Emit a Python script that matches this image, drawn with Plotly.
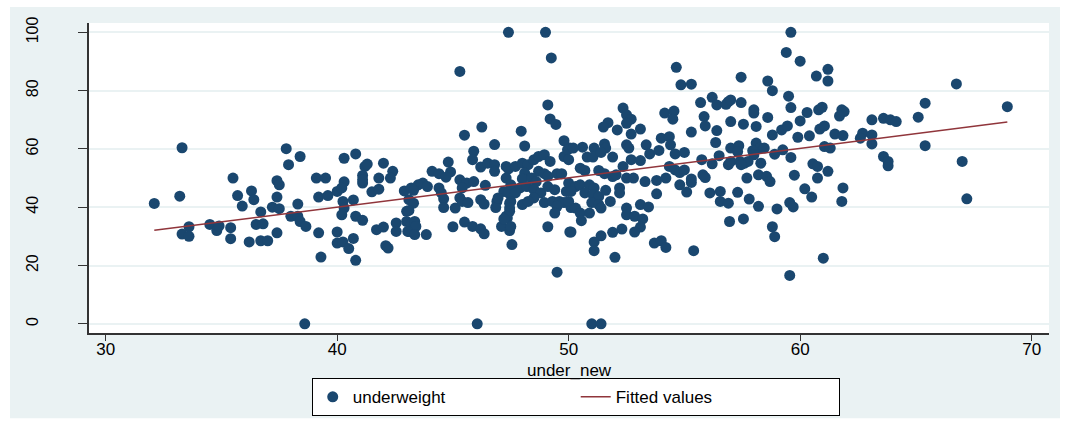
import numpy as np
import plotly.graph_objects as go

# under_new (x) and underweight (y) observations
under_new = [
    32.1, 33.3, 33.2, 35.5, 33.6, 33.3, 33.6, 34.5, 34.8, 34.9, 35.4, 35.4, 36.2, 35.7, 35.9, 36.3,
    36.4, 36.5, 36.7, 36.8, 36.7, 37.0,
    37.4, 37.4, 37.5, 37.4, 37.2, 37.5, 37.8, 38.4, 37.9, 38.3, 38.0, 38.3, 38.4, 38.65, 38.6, 39.2,
    39.3, 39.1, 39.5, 39.2, 39.6, 40.0, 40.0, 40.25, 40.5, 40.8, 40.7, 40.3, 40.8, 40.3, 40.0, 40.2,
    40.25, 40.7, 40.3, 40.2, 40.8, 41.1, 41.2, 41.3, 41.1, 41.1, 41.1, 41.5, 41.8, 41.8, 42.0, 42.4,
    42.3, 41.7, 42.0, 42.1, 42.2, 42.55, 42.55, 43.1, 42.9, 43.1, 43.0, 43.0, 43.2,
    47.4, 49.0, 49.25, 45.3, 49.1, 49.2, 49.45, 46.25, 45.5, 47.95, 46.8, 48.1, 49.8, 50.05, 45.9, 45.85,
    46.2, 44.8, 44.1, 44.4, 44.9, 44.7, 43.7, 43.5, 43.2, 43.9, 44.4, 44.5, 43.3, 43.3, 43.1, 44.6,
    44.6, 45.1, 45.3, 45.4, 45.3, 45.6, 45.4, 45.65, 45.9, 46.4, 46.2, 46.35, 46.9, 46.85, 46.5, 46.8,
    46.8, 47.3, 47.4, 47.3, 47.2, 47.4, 47.7, 48.0, 48.25, 48.1, 48.0, 47.5, 47.9, 47.7, 48.5, 48.7,
    48.95, 49.2, 48.7, 48.95, 49.1, 49.5, 49.7, 48.4, 48.6, 48.2, 48.5, 48.8, 48.5, 49.1, 49.4, 48.95,
    49.3, 49.6, 49.8, 49.5, 49.4, 50.1, 47.5, 48.0, 48.25, 47.45, 47.35, 47.1, 47.45, 47.55, 45.0, 45.5,
    45.85, 46.2, 46.35, 49.1, 49.5, 50.05, 46.05, 43.35, 43.4, 43.05, 43.35, 43.85, 49.8, 49.95, 49.9,
    47.5, 47.45, 47.45, 47.3, 47.2, 46.95,
    54.65, 54.85, 55.3, 52.35, 52.5, 52.7, 51.7, 51.5, 52.1, 52.5, 53.1, 52.7, 54.15, 54.55, 54.5, 55.7,
    56.2, 56.4, 56.9, 55.85, 55.9, 55.3, 56.4, 56.35, 57.0, 54.0, 54.35, 54.4, 53.35, 52.5, 52.6, 51.55,
    51.6, 50.6, 51.1, 50.2, 51.9, 50.8, 51.05, 51.4, 52.7, 53.1, 53.5, 53.9, 54.6, 55.0, 55.75, 56.2,
    56.5, 56.9, 50.5, 50.7, 50.0, 52.35, 51.3, 51.55, 51.9, 52.05, 52.5, 52.8, 53.3, 53.8, 54.2, 54.35,
    54.6, 54.8, 55.0, 55.3, 55.3, 55.8, 55.9, 54.8, 55.1, 53.8, 56.1, 56.55, 56.55, 56.9, 56.95, 50.0,
    50.3, 50.5, 50.9, 51.1, 50.1, 50.7, 51.05, 51.3, 51.6, 52.2, 52.2, 50.0, 51.0, 51.3, 51.8, 51.4,
    50.3, 50.5, 50.55, 50.9, 52.5, 53.1, 53.45, 52.5, 52.85, 53.2, 53.1, 52.85, 52.3, 51.9, 51.4, 51.1,
    51.1, 52.0, 50.1, 53.7, 54.0, 54.2, 55.4, 51.0, 51.4, 56.8,
    59.6, 59.4, 60.0, 60.7, 61.2, 61.2, 57.45, 58.6, 58.8, 59.5, 59.6, 57.0, 57.45, 58.0, 58.0, 58.6,
    60.3, 60.8, 60.95, 61.8, 61.9, 61.7, 57.55, 58.1, 60.0, 59.2, 59.45, 60.85, 61.05, 58.8, 59.9, 60.4,
    61.5, 61.85, 62.7, 63.1, 63.1, 62.6, 63.1, 63.6, 63.9, 57.0, 57.35, 57.3, 58.1, 58.25, 58.45, 57.95,
    58.0, 59.25, 58.9, 59.6, 61.05, 61.3, 57.0, 57.4, 57.6, 57.75, 57.45, 58.3, 60.55, 60.75, 61.2, 57.7,
    58.2, 58.55, 58.7, 59.75, 60.75, 60.2, 61.85, 57.3, 57.8, 58.2, 59.0, 59.55, 59.7, 60.5, 61.8, 57.55,
    58.8, 58.9, 61.0, 59.55,
    66.75, 65.4, 68.95, 65.1, 64.15, 65.4, 63.6, 63.8, 63.8, 67.0, 67.2,
]

underweight = [
    41.3, 60.4, 43.8, 50.0, 33.3, 30.8, 30.0, 34.1, 32.0, 33.6, 33.0, 29.2, 28.1, 44.0, 40.4, 45.6,
    42.6, 34.1, 38.4, 34.3, 28.5, 28.5,
    31.2, 49.1, 47.7, 43.5, 40.0, 39.5, 60.1, 57.4, 54.6, 41.1, 36.9, 36.9, 35.1, 33.4, 0.0, 31.2,
    22.9, 50.0, 50.0, 43.5, 44.0, 31.5, 27.7, 28.1, 25.8, 21.8, 29.3, 56.8, 58.3, 48.7, 45.4, 46.6,
    42.0, 42.5, 39.7, 37.4, 36.9, 35.5, 54.0, 54.8, 50.9, 48.3, 49.4, 45.3, 46.2, 50.0, 55.1, 52.3,
    50.0, 32.3, 33.2, 26.8, 26.0, 34.6, 31.7, 31.7, 45.6, 42.6, 38.6, 35.1, 34.3,
    100.0, 100.0, 91.2, 86.6, 75.1, 70.3, 68.4, 67.5, 64.7, 66.1, 61.5, 61.0, 62.8, 60.3, 59.2, 56.3,
    53.8, 55.5, 52.3, 51.5, 52.1, 50.3, 48.3, 47.7, 46.6, 47.1, 46.6, 44.9, 45.8, 41.4, 38.9, 42.9,
    39.9, 39.7, 43.2, 42.0, 49.4, 48.3, 46.6, 41.6, 48.8, 47.5, 42.6, 41.1, 42.0, 39.9, 55.1, 54.6,
    52.3, 54.0, 53.2, 50.0, 45.4, 44.9, 54.0, 55.1, 54.6, 51.7, 49.8, 47.7, 46.6, 44.9, 56.3, 57.4,
    58.0, 55.7, 52.3, 51.5, 50.6, 51.5, 51.5, 50.0, 48.8, 47.1, 46.0, 44.9, 43.2, 47.1, 46.0, 41.6,
    42.0, 42.0, 41.6, 40.3, 38.0, 39.9, 42.0, 40.9, 42.0, 38.6, 36.3, 33.4, 32.0, 27.2, 33.3, 34.9,
    33.4, 32.6, 30.9, 33.3, 17.7, 31.5, 0.0, 35.1, 33.4, 31.7, 30.6, 30.6, 57.4, 59.7, 45.4,
    33.4, 41.4, 39.7, 36.9, 36.0, 43.2,
    88.0, 82.0, 82.2, 74.0, 71.7, 70.2, 69.0, 67.5, 66.5, 68.8, 66.8, 65.1, 72.3, 73.0, 70.2, 75.9,
    77.7, 75.1, 76.2, 71.1, 67.9, 65.8, 66.3, 62.2, 69.4, 63.7, 64.2, 61.4, 61.4, 61.4, 60.3, 61.7,
    60.3, 60.6, 60.3, 60.3, 57.2, 57.2, 57.2, 58.8, 56.3, 56.0, 58.3, 59.5, 58.3, 58.8, 56.3, 54.9,
    57.7, 54.6, 53.4, 52.6, 56.3, 54.0, 52.6, 51.5, 50.5, 51.1, 50.0, 50.0, 48.8, 49.2, 50.0, 54.0,
    52.8, 51.9, 52.8, 49.7, 48.5, 51.1, 50.2, 47.7, 45.2, 44.6, 44.9, 45.4, 42.0, 41.4, 35.1, 48.3,
    47.1, 47.7, 47.7, 46.6, 45.4, 44.9, 44.3, 43.7, 45.8, 46.6, 44.9, 42.0, 41.6, 40.9, 42.0, 39.7,
    39.7, 38.0, 35.4, 38.0, 39.7, 40.9, 40.1, 37.4, 36.9, 36.0, 33.2, 31.5, 32.5, 31.4, 30.2, 28.1,
    25.1, 22.8, 31.5, 27.7, 28.5, 26.2, 25.1, 0.0, 0.0, 75.3,
    100.0, 93.1, 90.1, 85.0, 87.3, 83.3, 84.6, 83.3, 80.0, 78.1, 74.2, 76.8, 75.9, 73.4, 72.3, 70.8,
    72.5, 73.4, 74.3, 73.4, 72.8, 71.3, 68.5, 67.7, 69.6, 66.5, 67.9, 66.8, 67.9, 64.8, 64.0, 64.5,
    65.1, 64.6, 65.4, 64.8, 61.7, 63.7, 70.0, 70.5, 70.0, 60.3, 61.1, 59.1, 62.0, 60.3, 60.3, 59.4,
    58.0, 59.7, 58.2, 57.1, 60.8, 60.3, 55.7, 55.7, 55.1, 55.7, 54.6, 55.1, 54.9, 54.0, 52.3, 50.0,
    51.1, 50.6, 48.8, 51.0, 50.0, 46.3, 46.6, 45.1, 42.8, 40.3, 39.4, 41.6, 40.1, 43.5, 42.0, 36.0,
    33.3, 29.9, 22.5, 16.6,
    82.3, 75.7, 74.5, 70.9, 69.4, 61.1, 57.4, 55.7, 54.2, 55.7, 42.9,
]

x = np.array(under_new)
y = np.array(underweight)

# Linear fit of underweight on under_new, drawn across the observed range
slope, intercept = np.polyfit(x, y, 1)
fit_x = np.array([x.min(), x.max()])
fit_y = intercept + slope * fit_x

NAVY = "#1a476f"
MAROON = "#90353b"
BG = "#eaf2f3"
FONT = "Liberation Sans, Arial, sans-serif"

fig = go.Figure()
fig.add_trace(go.Scatter(
    x=x, y=y, mode="markers", name="underweight",
    marker=dict(color=NAVY, size=11, line=dict(width=0)),
))
fig.add_trace(go.Scatter(
    x=fit_x, y=fit_y, mode="lines", name="Fitted values",
    line=dict(color=MAROON, width=1.5),
))

# Light graph region behind a white plot region
fig.add_shape(type="rect", xref="paper", yref="paper",
              x0=-0.0823, x1=1.0115, y0=-0.2754, y1=1.0515,
              fillcolor=BG, line=dict(width=0), layer="below")
fig.add_shape(type="rect", xref="paper", yref="paper",
              x0=0, x1=1, y0=0, y1=1,
              fillcolor="white", line=dict(width=0), layer="below")

# x-axis title
fig.add_annotation(text="under_new", xref="paper", yref="paper",
                   x=0.5, y=-0.121, xanchor="center", yanchor="middle",
                   showarrow=False, font=dict(size=17))

fig.update_layout(
    width=1070, height=423,
    margin=dict(l=89, r=21, t=23, b=90, autoexpand=False),
    paper_bgcolor="white",
    plot_bgcolor="white",
    font=dict(family=FONT, color="black", size=17),
    showlegend=True,
    legend=dict(
        orientation="h", x=0.232, y=-0.146, xanchor="left", yanchor="top",
        bgcolor="white", bordercolor="black", borderwidth=1,
        font=dict(size=17), entrywidth=218, entrywidthmode="pixels",
        itemwidth=30, tracegroupgap=0,
    ),
)

fig.update_xaxes(
    range=[29.28, 70.75], tickvals=[30, 40, 50, 60, 70],
    showgrid=False, zeroline=False, automargin=False,
    showline=True, linecolor="#333333", linewidth=1.5,
    ticks="outside", ticklen=6, tickcolor="#333333",
    tickfont=dict(size=17), ticklabelstandoff=-6,
)
fig.update_yaxes(
    range=[-3.15, 103.2], tickvals=[0, 20, 40, 60, 80, 100],
    showgrid=True, gridcolor=BG, gridwidth=1.5, zeroline=False, automargin=False,
    showline=True, linecolor="#333333", linewidth=1.5,
    ticks="outside", ticklen=9, tickcolor="#333333",
    tickangle=-90, tickfont=dict(size=16), ticklabelstandoff=34,
)

fig.write_html("out.html")
